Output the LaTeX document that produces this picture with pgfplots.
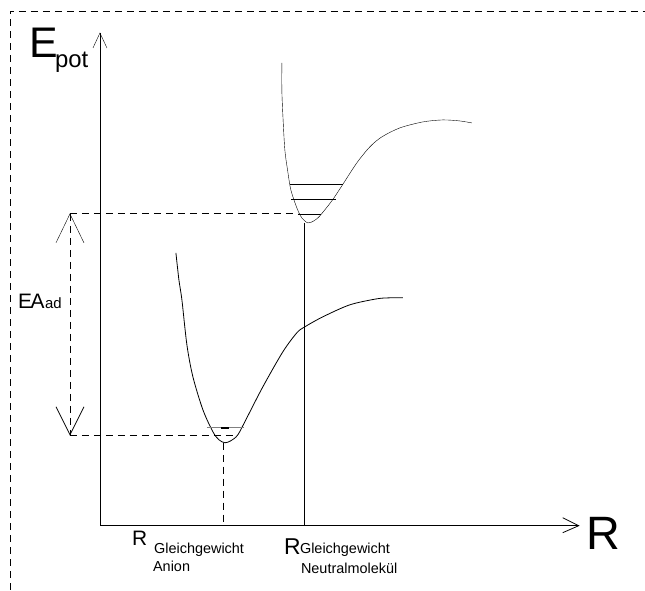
\documentclass[border=0pt]{standalone}
\usepackage{pgfplots}
\pgfplotsset{compat=1.18}
\usepackage{fontspec}
\setmainfont{Liberation Sans}
\newcommand{\fs}[1]{\fontsize{#1}{#1}\selectfont}
\begin{document}
\begin{tikzpicture}
\begin{axis}[scale only axis, width=645bp, height=590bp,
  xmin=0, xmax=645, ymin=0, ymax=590, y dir=reverse,
  hide axis, clip=false, no markers,
  cycle list={{black, line width=0.8bp}},
  dsh/.style={dash pattern=on 7bp off 5bp}]
\path (axis cs:0,0) rectangle (axis cs:645,590);
% frame
\addplot+[dsh, line width=0.7bp] coordinates {(10,590) (10,11) (645,11)};
% axes
\addplot coordinates {(100,33) (100,526) (579,526)};
\addplot coordinates {(93,48) (100,33) (107,48)};
\addplot coordinates {(563,518) (579,526) (563,533)};
% neutral curve
\addplot+[smooth] coordinates {(282,63) (282,90) (283,115) (285,150) (288,172) (291,190) (297,208) (302,218) (308,223) (314,221) (320,216) (332,201) (342,186) (357,163) (370,147) (382,137) (400,128) (423,122) (443,120) (460,121) (472,123)};
% anion curve
\addplot+[smooth] coordinates {(176,253) (179,280) (182,300) (187,345) (193,377) (203,410) (213,432) (219,440) (225,443) (231,441) (238,435) (247,418) (263,387) (283,352) (297,333) (305,327) (323,317) (350,305) (377,299) (390,298) (403,298)};
% vibrational levels
\addplot coordinates {(290,184) (343,184)};
\addplot coordinates {(291,200) (336,200)};
\addplot coordinates {(298,214) (321,214)};
\addplot+[gray] coordinates {(207,428) (244,428)};
\addplot+[line width=1.5bp] coordinates {(221,428) (229,428)};
% dashed guides
\addplot+[dsh] coordinates {(70,214) (298,214)};
\addplot+[dsh] coordinates {(70,435) (236,435)};
\addplot+[dsh] coordinates {(70,214) (70,435)};
\addplot+[dsh] coordinates {(223,443) (223,526)};
\addplot coordinates {(305,223) (305,526)};
% EA arrowheads
\addplot coordinates {(56,243) (70,214) (84,243)};
\addplot coordinates {(56,407) (70,435) (84,407)};
% labels
\node[anchor=base west, inner sep=0pt] at (axis cs:29,58) {\fs{43}E};
\node[anchor=base west, inner sep=0pt] at (axis cs:55,68) {\fs{24}pot};
\node[anchor=base west, inner sep=0pt] at (axis cs:18,309) {\fs{21}E\kern-1.5bp A};
\node[anchor=base west, inner sep=0pt] at (axis cs:45,309) {\fs{15}ad};
\node[anchor=base west, inner sep=0pt] at (axis cs:587,550) {\fs{47}R};
\node[anchor=base west, inner sep=0pt] at (axis cs:132,546) {\fs{21}R};
\node[anchor=base west, inner sep=0pt] at (axis cs:154,554) {\fs{14.5}Gleichgewicht};
\node[anchor=base west, inner sep=0pt] at (axis cs:153,572) {\fs{14.5}Anion};
\node[anchor=base west, inner sep=0pt] at (axis cs:284,555) {\fs{23}R};
\node[anchor=base west, inner sep=0pt] at (axis cs:300,554) {\fs{14.5}Gleichgewicht};
\node[anchor=base west, inner sep=0pt] at (axis cs:301,574) {\fs{14.5}Neutralmolekül};
\end{axis}
\end{tikzpicture}
\end{document}
